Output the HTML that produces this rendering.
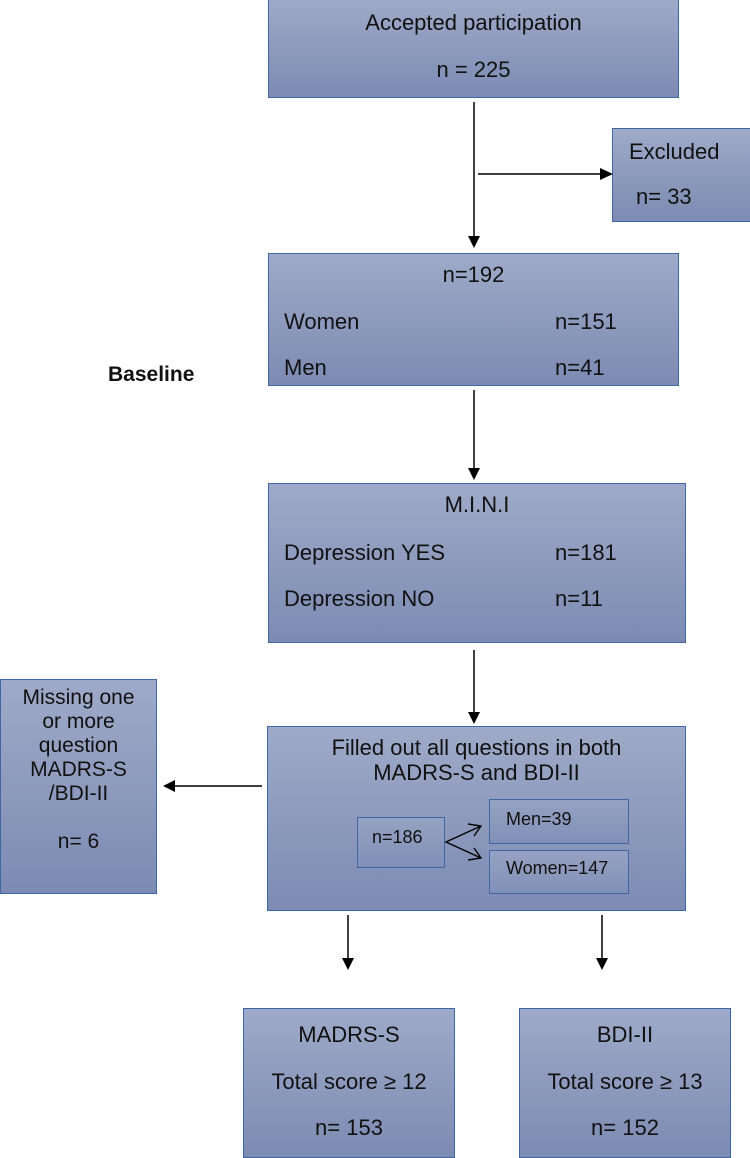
<!DOCTYPE html>
<html><head><meta charset="utf-8"><style>
html,body{margin:0;padding:0;background:#fff;}
body{width:750px;height:1155px;position:relative;overflow:hidden;font-family:"Liberation Sans",Arial,sans-serif;color:#111;}
.b{position:absolute;box-sizing:border-box;border:1.5px solid #3f67a6;background:linear-gradient(#9eaac8,#7d8bb3);}
.t{position:absolute;font-size:22px;line-height:26px;white-space:nowrap;}
.ib{position:absolute;box-sizing:border-box;border:1.2px solid #3f67a6;background:linear-gradient(#96a2c3,#8190b7);}
</style></head><body>
<div class="b" style="left:268px;top:-2px;width:411px;height:100px"></div>
<div class="t" style="left:268px;width:411px;text-align:center;top:10px">Accepted participation</div>
<div class="t" style="left:268px;width:411px;text-align:center;top:57px">n = 225</div>

<div class="b" style="left:612px;top:128px;width:140px;height:94px"></div>
<div class="t" style="left:629px;top:139px">Excluded</div>
<div class="t" style="left:636px;top:184px">n= 33</div>

<div class="b" style="left:268px;top:253px;width:411px;height:133px"></div>
<div class="t" style="left:268px;width:411px;text-align:center;top:262px">n=192</div>
<div class="t" style="left:284px;top:309px">Women</div>
<div class="t" style="left:555px;top:309px">n=151</div>
<div class="t" style="left:284px;top:355px">Men</div>
<div class="t" style="left:555px;top:355px">n=41</div>
<div class="t" style="left:108px;top:362px;font-weight:bold;font-size:21px">Baseline</div>

<div class="b" style="left:268px;top:483px;width:418px;height:160px"></div>
<div class="t" style="left:268px;width:418px;text-align:center;top:492px">M.I.N.I</div>
<div class="t" style="left:284px;top:540px">Depression YES</div>
<div class="t" style="left:555px;top:540px">n=181</div>
<div class="t" style="left:284px;top:586px">Depression NO</div>
<div class="t" style="left:555px;top:586px">n=11</div>

<div class="b" style="left:267px;top:726px;width:419px;height:185px"></div>
<div class="t" style="left:267px;width:419px;text-align:center;top:735px;line-height:25px">Filled out all questions in both</div>
<div class="t" style="left:267px;width:419px;text-align:center;top:760px;line-height:25px">MADRS-S and BDI-II</div>
<div class="ib" style="left:357px;top:817px;width:88px;height:51px"></div>
<div class="t" style="left:372px;top:827px;font-size:18px;line-height:20px">n=186</div>
<div class="ib" style="left:489px;top:799px;width:140px;height:45px"></div>
<div class="t" style="left:506px;top:809px;font-size:18px;line-height:20px">Men=39</div>
<div class="ib" style="left:489px;top:850px;width:140px;height:44px"></div>
<div class="t" style="left:506px;top:858px;font-size:18px;line-height:20px">Women=147</div>

<div class="b" style="left:0px;top:679px;width:157px;height:215px"></div>
<div class="t" style="left:0;width:157px;text-align:center;top:686px;line-height:24px;font-size:21px;white-space:normal">Missing one<br>or more<br>question<br>MADRS-S<br>/BDI-II<br><br>n= 6</div>

<div class="b" style="left:243px;top:1008px;width:212px;height:150px"></div>
<div class="t" style="left:243px;width:212px;text-align:center;top:1022px">MADRS-S</div>
<div class="t" style="left:243px;width:212px;text-align:center;top:1069px">Total score ≥ 12</div>
<div class="t" style="left:243px;width:212px;text-align:center;top:1115px">n= 153</div>

<div class="b" style="left:519px;top:1008px;width:212px;height:150px"></div>
<div class="t" style="left:519px;width:212px;text-align:center;top:1022px">BDI-II</div>
<div class="t" style="left:519px;width:212px;text-align:center;top:1069px">Total score ≥ 13</div>
<div class="t" style="left:519px;width:212px;text-align:center;top:1115px">n= 152</div>

<svg width="750" height="1155" style="position:absolute;left:0;top:0" xmlns="http://www.w3.org/2000/svg">
<g stroke="#000" stroke-width="1.5" fill="none">
<line x1="474" y1="102" x2="474" y2="236"/>
<line x1="478" y1="174" x2="600" y2="174"/>
<line x1="474" y1="390" x2="474" y2="468"/>
<line x1="474" y1="650" x2="474" y2="712"/>
<line x1="262" y1="786" x2="175" y2="786"/>
<line x1="348" y1="915" x2="348" y2="958"/>
<line x1="602" y1="915" x2="602" y2="958"/>
<polyline points="481,826 446,842 481,858" stroke-width="1.4"/>
<polyline points="468,824 481,826 474,836" stroke-width="1.4"/>
<polyline points="474,848 481,858 468,860" stroke-width="1.4"/>
</g>
<g fill="#000">
<polygon points="468,236 480,236 474,248"/>
<polygon points="600,168 600,180 613,174"/>
<polygon points="468,468 480,468 474,480"/>
<polygon points="468,712 480,712 474,724"/>
<polygon points="175,780 175,792 163,786"/>
<polygon points="342,958 354,958 348,970"/>
<polygon points="596,958 608,958 602,970"/>
</g>
</svg>
</body></html>
